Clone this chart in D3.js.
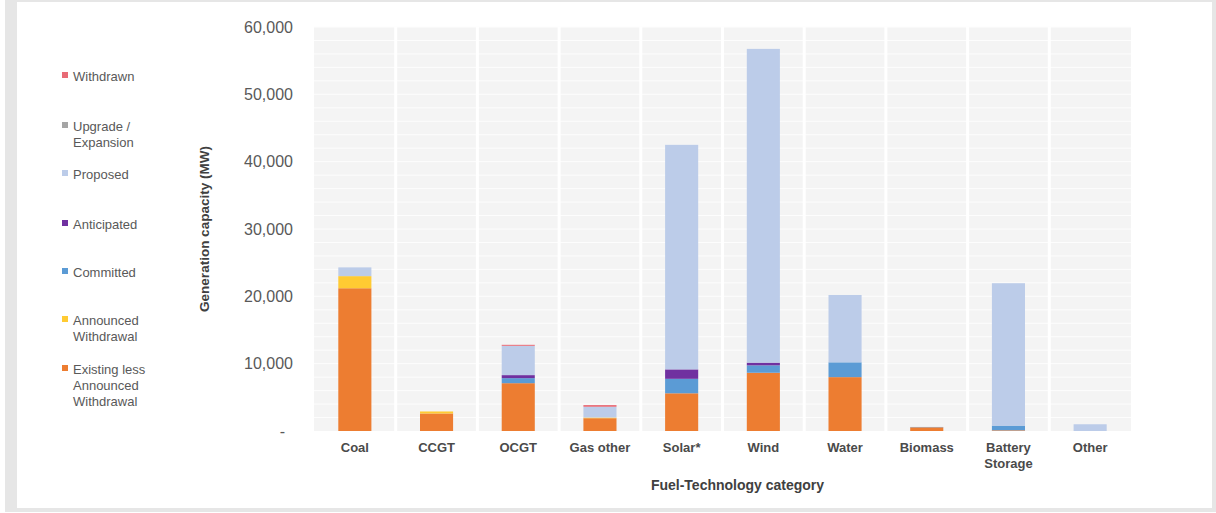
<!DOCTYPE html>
<html>
<head>
<meta charset="utf-8">
<script src="https://cdn.jsdelivr.net/npm/d3@7"></script>
<style>
  html, body { margin: 0; padding: 0; background: #ffffff; }
  svg { display: block; font-family: "Liberation Sans", Arial, sans-serif; }
</style>
</head>
<body>
<svg id="chart" width="1216" height="513"></svg>
<script>
// Generation capacity by fuel-technology category (MW)
const categories = ["Coal", "CCGT", "OCGT", "Gas other", "Solar*", "Wind", "Water", "Biomass", "Battery Storage", "Other"];

// Stack order, bottom to top
const seriesNames = ["Existing less Announced Withdrawal", "Announced Withdrawal", "Committed", "Anticipated", "Proposed", "Upgrade / Expansion", "Withdrawn"];

const existing    = [21200, 2600, 7100, 1900, 5600, 8650, 8000, 550, 100, 0];
const announced   = [1800, 300, 0, 100, 0, 0, 0, 0, 0, 0];
const committed   = [0, 0, 750, 0, 2150, 1100, 2200, 50, 700, 0];
const anticipated = [0, 0, 450, 0, 1400, 400, 0, 0, 0, 0];
const proposed    = [1300, 0, 4350, 1600, 33350, 46600, 10000, 0, 21150, 1000];
const upgrade     = [0, 0, 0, 0, 0, 0, 0, 0, 0, 0];
const withdrawn   = [0, 0, 150, 250, 0, 0, 0, 0, 0, 0];

const yTicks = [0, 10000, 20000, 30000, 40000, 50000, 60000];

const colors = {
  "Existing less Announced Withdrawal": "#ed7d31",
  "Announced Withdrawal": "#ffcb33",
  "Committed": "#5b9bd5",
  "Anticipated": "#7030a0",
  "Proposed": "#bccce9",
  "Upgrade / Expansion": "#a5a5a5",
  "Withdrawn": "#e86b76"
};

const seriesValues = [existing, announced, committed, anticipated, proposed, upgrade, withdrawn];

const table = categories.map((c, i) => {
  const row = { category: c };
  seriesNames.forEach((s, k) => { row[s] = seriesValues[k][i]; });
  return row;
});

const svg = d3.select("#chart");
const W = 1216, H = 513;

// Outer frame
svg.append("rect").attr("x", 5).attr("y", 0).attr("width", W - 5).attr("height", 512).attr("fill", "#e6e6e6");
svg.append("rect").attr("x", 17).attr("y", 2).attr("width", 1195).attr("height", 506).attr("fill", "#ffffff");

const plot = { left: 314, right: 1131, top: 27, bottom: 431 };

const x = d3.scaleBand().domain(categories).range([plot.left, plot.right]).padding(0);
const y = d3.scaleLinear().domain([0, 60000]).range([plot.bottom, plot.top]);

// Plot panel
svg.append("rect")
  .attr("x", plot.left).attr("y", plot.top)
  .attr("width", plot.right - plot.left).attr("height", plot.bottom - plot.top)
  .attr("fill", "#f4f4f4");

// Horizontal gridlines every 2,000 MW
const gridVals = d3.range(2000, 60001, 2000);
svg.append("g").selectAll("line").data(gridVals).join("line")
  .attr("x1", plot.left).attr("x2", plot.right)
  .attr("y1", d => y(d)).attr("y2", d => y(d))
  .attr("stroke", "#fdfdfd").attr("stroke-width", 1);

// Vertical separators between categories
svg.append("g").selectAll("line").data(categories.slice(1)).join("line")
  .attr("x1", d => x(d)).attr("x2", d => x(d))
  .attr("y1", plot.top).attr("y2", plot.bottom)
  .attr("stroke", "#ffffff").attr("stroke-width", 3);

// Stacked bars
const stack = d3.stack().keys(seriesNames);
const stacked = stack(table);
const barW = x.bandwidth() * 0.405;

svg.append("g").selectAll("g").data(stacked).join("g")
  .attr("fill", d => colors[d.key])
  .selectAll("rect").data(d => d).join("rect")
  .attr("x", d => x(d.data.category) + (x.bandwidth() - barW) / 2)
  .attr("width", barW)
  .attr("y", d => y(d[1]))
  .attr("height", d => Math.max(0, y(d[0]) - y(d[1])));

// Y axis
const yAxis = d3.axisLeft(y).tickValues(yTicks).tickSize(0).tickPadding(0)
  .tickFormat(d => d === 0 ? "-" : d3.format(",")(d));
const gy = svg.append("g").attr("transform", `translate(293,0)`).call(yAxis);
gy.select(".domain").remove();
gy.selectAll("text")
  .attr("font-size", 16).attr("fill", "#595959")
  .attr("font-family", "'Liberation Sans', Arial, sans-serif")
  .attr("dx", d => d === 0 ? -8 : 0);

svg.append("text")
  .attr("transform", `translate(209,${(plot.top + plot.bottom) / 2}) rotate(-90)`)
  .attr("text-anchor", "middle")
  .attr("font-size", 13.5).attr("font-weight", "bold").attr("fill", "#404040")
  .text("Generation capacity (MW)");

// X axis labels
const xAxis = d3.axisBottom(x).tickSize(0).tickPadding(0).tickFormat("");
const gx = svg.append("g").attr("transform", `translate(0,${plot.bottom})`).call(xAxis);
gx.select(".domain").remove();
gx.selectAll(".tick").each(function(d) {
  const words = d === "Battery Storage" ? ["Battery", "Storage"] : [d];
  const t = d3.select(this).append("text")
    .attr("text-anchor", "middle")
    .attr("font-size", 13).attr("font-weight", "bold").attr("fill", "#4a4a4a")
    .attr("font-family", "'Liberation Sans', Arial, sans-serif");
  words.forEach((w, i) => {
    t.append("tspan").attr("x", 0).attr("y", 21 + i * 16).text(w);
  });
});

svg.append("text")
  .attr("x", (plot.left + plot.right) / 2 + 15).attr("y", 490)
  .attr("text-anchor", "middle")
  .attr("font-size", 14).attr("font-weight", "bold").attr("fill", "#404040")
  .text("Fuel-Technology category");

// Legend
const legendItems = [
  { key: "Withdrawn", lines: ["Withdrawn"], y: 76 },
  { key: "Upgrade / Expansion", lines: ["Upgrade /", "Expansion"], y: 126 },
  { key: "Proposed", lines: ["Proposed"], y: 174 },
  { key: "Anticipated", lines: ["Anticipated"], y: 224 },
  { key: "Committed", lines: ["Committed"], y: 272 },
  { key: "Announced Withdrawal", lines: ["Announced", "Withdrawal"], y: 320 },
  { key: "Existing less Announced Withdrawal", lines: ["Existing less", "Announced", "Withdrawal"], y: 369 }
];
const lg = svg.append("g");
legendItems.forEach(it => {
  lg.append("rect").attr("x", 62).attr("y", it.y - 4).attr("width", 6).attr("height", 6)
    .attr("fill", colors[it.key]);
  const t = lg.append("text").attr("font-size", 13).attr("fill", "#595959");
  it.lines.forEach((l, i) => {
    t.append("tspan").attr("x", 73).attr("y", it.y + 4.5 + i * 16).text(l);
  });
});
</script>
</body>
</html>
